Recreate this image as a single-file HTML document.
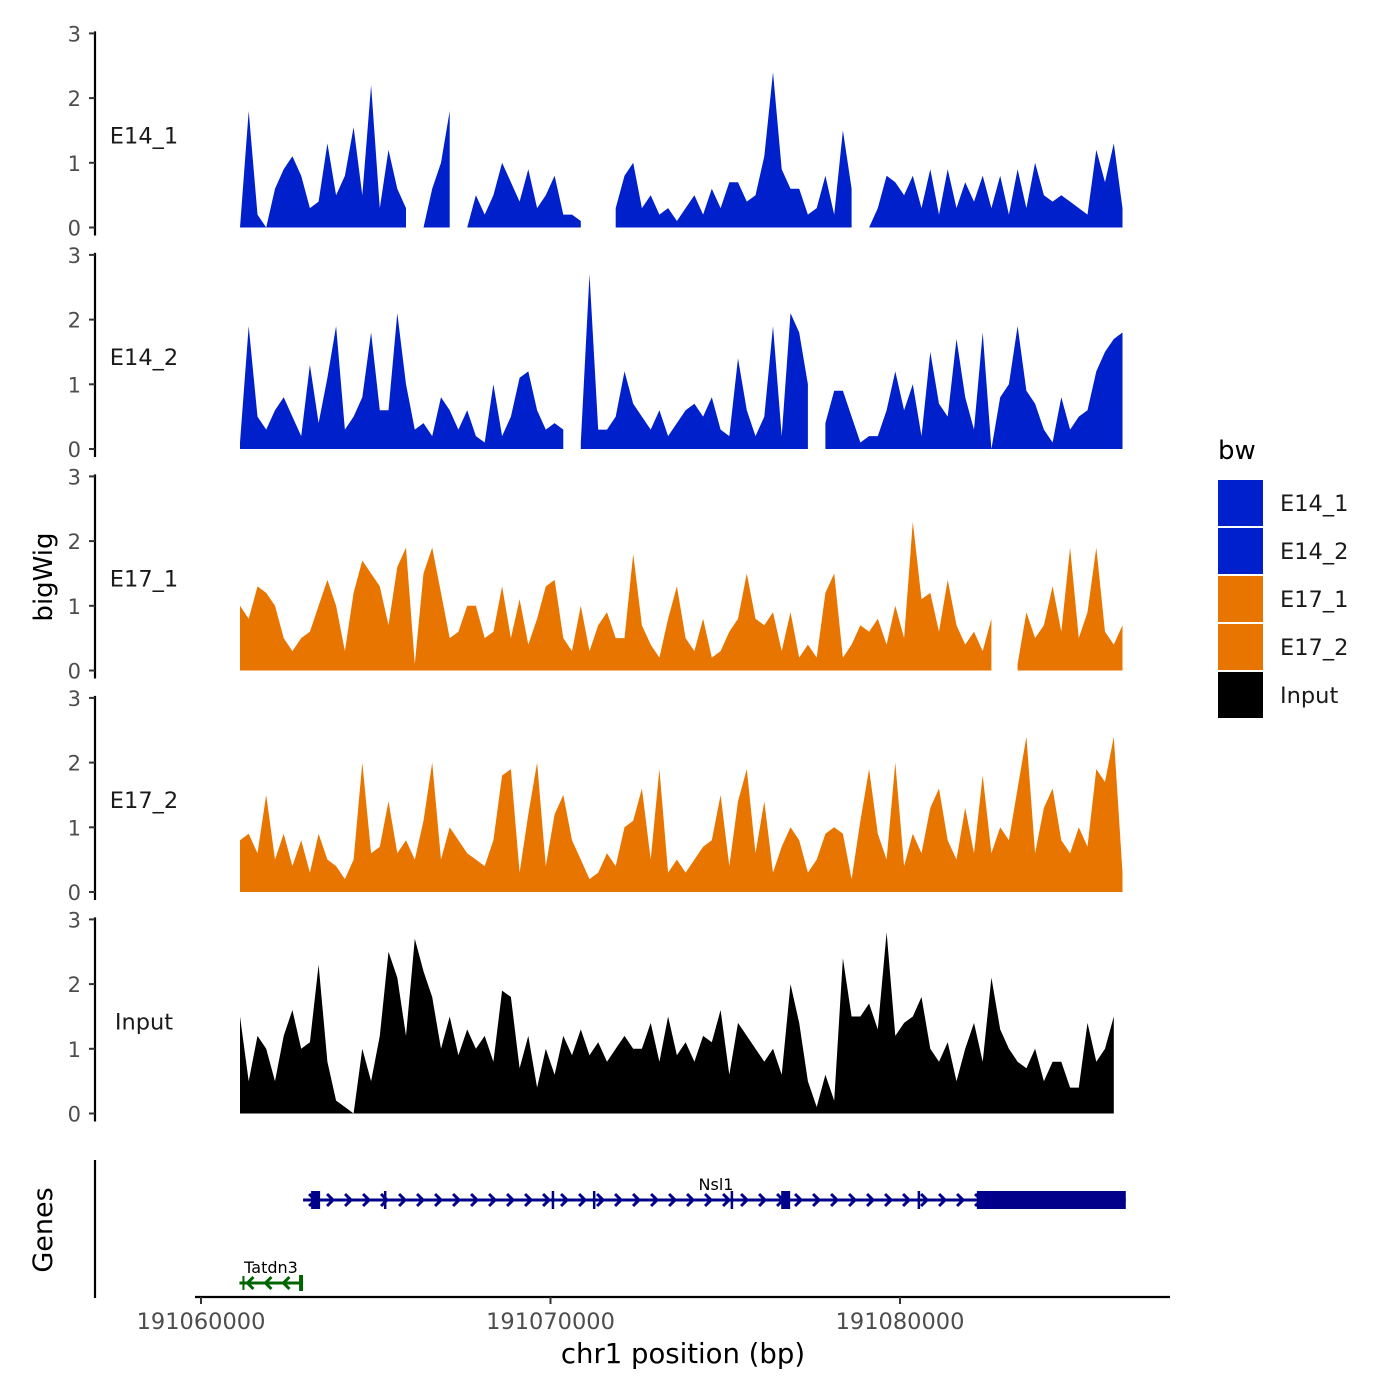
<!DOCTYPE html>
<html><head><meta charset="utf-8"><style>
html,body{margin:0;padding:0;background:#fff;}
svg{display:block;font-family:"DejaVu Sans","Liberation Sans",sans-serif;}
</style></head><body>
<svg id="chart" width="1400" height="1400" viewBox="0 0 1400 1400">
<g id="tracks"></g>
<g id="genes"></g>
<g id="legend"></g>
<text x="52" y="577" font-size="26" text-anchor="middle" transform="rotate(-90 52 577)">bigWig</text>
<text x="52" y="1230" font-size="27" text-anchor="middle" transform="rotate(-90 52 1230)">Genes</text>
<text x="683" y="1363" font-size="27.5" text-anchor="middle">chr1 position (bp)</text>
</svg>
<script>
const binStart = 191061116;
const binStep = 250;
const trackNames = ["E14_1","E14_2","E17_1","E17_2","Input"];
const trackColors = ["#0020CC","#0020CC","#E87500","#E87500","#000000"];
const yTicks = [0,1,2,3];
const xTicks = [191060000,191070000,191080000];
const xTickLabels = ["191060000","191070000","191080000"];
const e14_1 = [0,1.8,0.2,0,0.6,0.9,1.1,0.8,0.3,0.4,1.3,0.5,0.8,1.55,0.5,2.2,0.3,1.2,0.6,0.3,null,0,0.6,1.0,1.8,null,0,0.5,0.2,0.5,1.0,0.7,0.4,0.9,0.3,0.5,0.8,0.2,0.2,0.1,null,null,null,0.3,0.8,1.0,0.3,0.5,0.2,0.3,0.1,0.3,0.5,0.2,0.6,0.3,0.7,0.7,0.4,0.5,1.1,2.4,0.9,0.6,0.6,0.2,0.3,0.8,0.2,1.5,0.6,null,0,0.3,0.8,0.7,0.5,0.8,0.3,0.9,0.2,0.9,0.3,0.7,0.4,0.8,0.3,0.8,0.2,0.9,0.3,1.0,0.5,0.4,0.5,0.4,0.3,0.2,1.2,0.7,1.3,0.3];
const e14_2 = [0.1,1.9,0.5,0.3,0.6,0.8,0.5,0.2,1.3,0.4,1.1,1.9,0.3,0.5,0.8,1.8,0.6,0.6,2.1,1.0,0.3,0.4,0.2,0.8,0.6,0.3,0.6,0.2,0.1,1.0,0.2,0.5,1.1,1.2,0.6,0.3,0.4,0.3,null,0.1,2.7,0.3,0.3,0.5,1.2,0.7,0.5,0.3,0.6,0.2,0.4,0.6,0.7,0.5,0.8,0.3,0.2,1.4,0.6,0.2,0.5,1.9,0.2,2.1,1.8,1.0,null,0.4,0.9,0.9,0.5,0.1,0.2,0.2,0.6,1.2,0.6,1.0,0.2,1.5,0.7,0.5,1.7,0.8,0.3,1.8,0,0.8,1.0,1.9,0.9,0.7,0.3,0.1,0.8,0.3,0.5,0.6,1.2,1.5,1.7,1.8];
const e17_1 = [1.0,0.8,1.3,1.2,1.0,0.5,0.3,0.5,0.6,1.0,1.4,1.0,0.3,1.2,1.7,1.5,1.3,0.7,1.6,1.9,0.1,1.5,1.9,1.2,0.5,0.6,1.0,1.0,0.5,0.6,1.3,0.5,1.1,0.4,0.8,1.3,1.4,0.5,0.3,1.0,0.3,0.7,0.9,0.5,0.5,1.8,0.7,0.4,0.2,0.8,1.3,0.5,0.3,0.8,0.2,0.3,0.6,0.8,1.5,0.8,0.7,0.9,0.3,0.9,0.2,0.4,0.2,1.2,1.5,0.2,0.4,0.7,0.6,0.8,0.4,1.0,0.5,2.3,1.1,1.2,0.6,1.4,0.7,0.4,0.6,0.3,0.8,null,null,0.1,0.9,0.5,0.7,1.3,0.6,1.9,0.5,0.9,1.9,0.6,0.4,0.7];
const e17_2 = [0.8,0.9,0.6,1.5,0.5,0.9,0.4,0.8,0.3,0.9,0.5,0.4,0.2,0.5,2.0,0.6,0.7,1.4,0.6,0.8,0.5,1.1,2.0,0.5,1.0,0.8,0.6,0.5,0.4,0.8,1.8,1.9,0.3,1.2,2.0,0.4,1.2,1.5,0.8,0.5,0.2,0.3,0.6,0.4,1.0,1.1,1.6,0.5,1.9,0.3,0.5,0.3,0.5,0.7,0.8,1.5,0.4,1.4,1.9,0.6,1.4,0.3,0.7,1.0,0.8,0.3,0.5,0.9,1.0,0.9,0.2,1.1,1.9,0.9,0.5,2.0,0.4,0.9,0.6,1.3,1.6,0.8,0.5,1.3,0.6,1.8,0.6,1.0,0.8,1.6,2.4,0.6,1.3,1.6,0.8,0.6,1.0,0.7,1.9,1.7,2.4,0.3];
const inputVals = [1.5,0.5,1.2,1.0,0.5,1.2,1.6,1.0,1.1,2.3,0.8,0.2,0.1,0.0,1.0,0.5,1.2,2.5,2.1,1.2,2.7,2.2,1.8,1.0,1.5,0.9,1.3,1.0,1.2,0.8,1.9,1.8,0.7,1.2,0.4,1.0,0.6,1.2,0.9,1.3,0.9,1.1,0.8,1.0,1.2,1.0,1.0,1.4,0.8,1.5,0.9,1.1,0.8,1.2,1.1,1.6,0.6,1.4,1.2,1.0,0.8,1.0,0.6,2.0,1.4,0.5,0.1,0.6,0.2,2.4,1.5,1.5,1.7,1.3,2.8,1.2,1.4,1.5,1.8,1.0,0.8,1.1,0.5,1.0,1.4,0.8,2.1,1.3,1.0,0.8,0.7,1.0,0.5,0.8,0.8,0.4,0.4,1.4,0.8,1.0,1.5];
const trackValues = [e14_1,e14_2,e17_1,e17_2,inputVals];
// genes
const nsl1Range = [191062920,191086460];
const nsl1Exons = [[191063150,191063400],[191076600,191076850],[191082200,191086460]];
const nsl1Thin = [191065270,191070070,191071250,191075190,191080540];
const tatdn3Range = [191061100,191062920];

const NS="http://www.w3.org/2000/svg";
function xs(bp){return 201+(bp-191060000)*0.03495;}
function mk(tag,attrs,parent){const e=document.createElementNS(NS,tag);for(const k in attrs)e.setAttribute(k,attrs[k]);parent.appendChild(e);return e;}
const tracks=document.getElementById('tracks');
trackNames.forEach((name,t)=>{
  const y0=227.5+t*221.5, unit=64.7;
  const ys=v=>y0-v*unit;
  const g=mk('g',{},tracks);
  
  
  const ax=mk('line',{x1:95,x2:95,y1:ys(3)-2,y2:y0+8,stroke:'#000','stroke-width':2.2},g);
  
  
  yTicks.forEach(v=>{
    const tk=mk('line',{x1:89,x2:95,y1:ys(v),y2:ys(v),stroke:'#333','stroke-width':2},g);
    
    
    const tl=mk('text',{x:81,y:ys(v)+8,'font-size':21,'text-anchor':'end',fill:'#4d4d4d'},g);
    tl.textContent=v;
    
    
  });
  const lb=mk('text',{x:144,y:ys(1.3),'font-size':22.5,'text-anchor':'middle',fill:'#1a1a1a'},g);
  lb.textContent=name;
  
  
  const vals=trackValues[t];
  let d='',seg=[];
  const flush=()=>{if(seg.length){d+='M'+seg[0][0]+','+y0+' '+seg.map(p=>'L'+p[0]+','+p[1]).join(' ')+' L'+seg[seg.length-1][0]+','+y0+'Z ';seg=[];}};
  vals.forEach((v,i)=>{if(v===null){flush();return;}seg.push([xs(binStart+i*binStep).toFixed(1),ys(v).toFixed(1)]);});
  flush();
  const ar=mk('path',{d:d,fill:trackColors[t]},g);
  
  
});
// genes panel
const gp=document.getElementById('genes');
const gax=mk('line',{x1:95,x2:95,y1:1160,y2:1298,stroke:'#000','stroke-width':2.2},gp);


const xax=mk('line',{x1:195,x2:1170,y1:1297,y2:1297,stroke:'#000','stroke-width':2.2},gp);


xTicks.forEach((v,i)=>{
  const tk=mk('line',{x1:xs(v),x2:xs(v),y1:1297,y2:1304,stroke:'#333','stroke-width':2},gp);
  
  
  const tl=mk('text',{x:xs(v),y:1329,'font-size':22.5,'text-anchor':'middle',fill:'#4d4d4d'},gp);
  tl.textContent=xTickLabels[i];
  
  
});
function gene(range,y,color,dir,label,lx){
  const g=mk('g',{},gp);
  
  
  const a=xs(range[0]),b=xs(range[1]);
  mk('line',{x1:a,x2:b,y1:y,y2:y,stroke:color,'stroke-width':3},g);
  for(let x=a+10;x<b-6;x+=18){
    const p=dir>0?`M${x-4},${y-6} L${x+2},${y} L${x-4},${y+6}`:`M${x+4},${y-6} L${x-2},${y} L${x+4},${y+6}`;
    mk('path',{d:p,stroke:color,'stroke-width':3,fill:'none'},g);
  }
  const t=mk('text',{x:lx,y:y-10,'font-size':16,'text-anchor':'middle',fill:'#000'},g);
  t.textContent=label;
  return g;
}
const ng=gene(nsl1Range,1200,'#00008B',1,'Nsl1',716);
nsl1Exons.forEach(e=>{const r=mk('rect',{x:xs(e[0]),y:1191,width:Math.max(9,xs(e[1])-xs(e[0])),height:18,fill:'#00008B'},ng);

});
nsl1Thin.forEach(v=>mk('line',{x1:xs(v),x2:xs(v),y1:1191,y2:1209,stroke:'#00008B','stroke-width':2.5},ng));
const tg=gene(tatdn3Range,1283,'#006400',-1,'Tatdn3',271);
mk('rect',{x:xs(tatdn3Range[1])-4,y:1275,width:4,height:16,fill:'#006400'},tg);
mk('line',{x1:xs(tatdn3Range[0])+4,x2:xs(tatdn3Range[0])+4,y1:1276,y2:1290,stroke:'#006400','stroke-width':2},tg);
// legend
const lg=document.getElementById('legend');
const lt=mk('text',{x:1218,y:459,'font-size':26},lg);lt.textContent='bw';


trackNames.forEach((n,i)=>{
  const r=mk('rect',{x:1218,y:480+i*48,width:45,height:46,fill:trackColors[i]},lg);
  
  
  const t=mk('text',{x:1280,y:511+i*48,'font-size':22.5,fill:'#1a1a1a'},lg);t.textContent=n;
  
  
});
</script>
</body></html>
